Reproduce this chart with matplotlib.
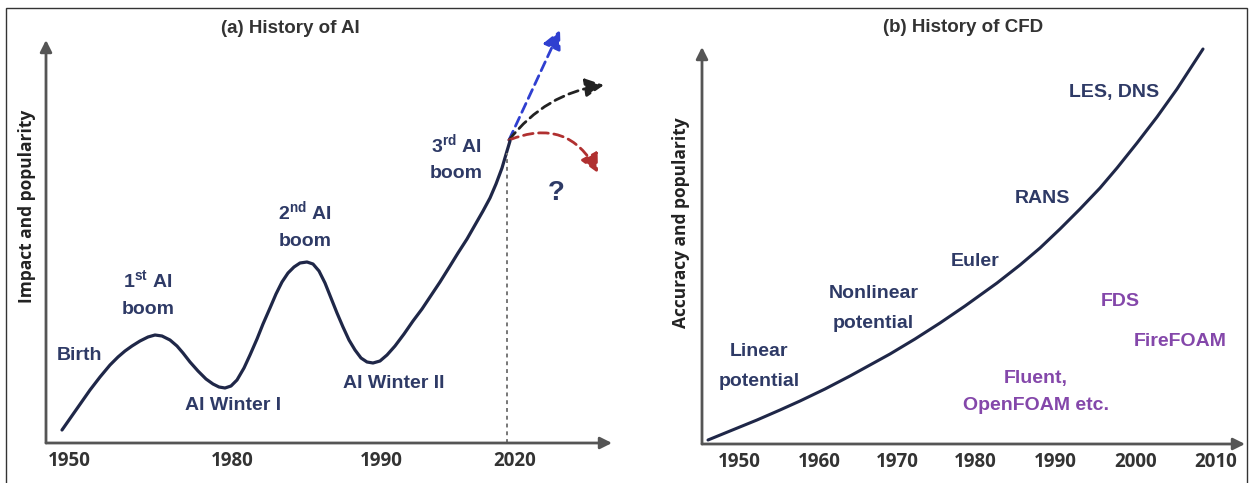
import matplotlib
matplotlib.use("Agg")
import matplotlib.pyplot as plt
from matplotlib.patches import FancyArrowPatch, Rectangle

# ── data (schematic; x = timeline position, y = level) ──
ai_x = [62, 76, 90, 100, 110, 118, 125, 132, 140, 148, 155, 162, 170, 177, 183, 190,
        198, 206, 213, 219, 225, 231, 237, 244, 250, 257, 263, 270, 276, 282, 288, 294,
        300, 307, 313, 319, 325, 331, 337, 343, 349, 355, 361, 367, 373, 380, 387, 395,
        404, 413, 422, 430, 440, 450, 458, 467, 475, 483, 490, 496, 502, 507, 510]
ai_y = [13, 33, 53, 66, 78, 86, 92, 97, 102, 106, 108, 107, 103, 97, 90, 81,
        72, 64, 59, 56, 55, 57, 63, 75, 88, 104, 119, 135, 149, 161, 170, 176,
        180, 181, 179, 172, 160, 145, 130, 116, 103, 93, 85, 81, 80, 82, 88, 97,
        109, 122, 134, 146, 161, 177, 190, 204, 218, 232, 245, 259, 275, 292, 302]
ai_ticks = [69, 232, 381, 515]
ai_ticklabels = ["1950", "1980", "1990", "2020"]
now_x = 507
now_level = 290

cfd_x = [708, 730, 757, 780, 800, 825, 850, 870, 890, 915, 940, 965, 997,
         1020, 1040, 1060, 1080, 1100, 1117, 1137, 1157, 1177, 1203]
cfd_y = [4, 13, 24, 34, 43, 55, 68, 79, 90, 105, 121, 138, 161,
         179, 196, 215, 235, 256, 276, 301, 327, 355, 395]
cfd_ticks = [739, 819, 897, 975, 1055, 1136, 1216]
cfd_ticklabels = ["1950", "1960", "1970", "1980", "1990", "2000", "2010"]

# future scenarios: start point, end points, curvature, colour
fut_start = (509, 303)
fut_ends = [(560, 413), (604, 358), (598, 270)]
fut_rads = [0.0, -0.2, -0.45]
fut_colors = ["#2f3fd0", "#222222", "#b03030"]

NAVY = "#2e3a66"
LINE = "#1f2748"
PURPLE = "#8447aa"
AXC = "#555555"
LAB = "Liberation Sans"
TCK = "Open Sans"

plt.rcParams["mathtext.fontset"] = "custom"
plt.rcParams["mathtext.rm"] = "Liberation Sans:bold"
plt.rcParams["mathtext.bf"] = "Liberation Sans:bold"

W, H = 1253, 483
fig = plt.figure(figsize=(W / 100, H / 100), dpi=100)


def box(l, r, b, t):
    return [l / W, (H - b) / H, (r - l) / W, (b - t) / H]


def setup(ax, ticks, labels):
    for s in ax.spines.values():
        s.set_visible(False)
    ax.set_yticks([])
    ax.set_xticks(ticks, labels)
    ax.tick_params(axis="x", length=0, pad=6)
    for t in ax.get_xticklabels():
        t.set_fontfamily(TCK)
        t.set_fontweight("bold")
        t.set_fontsize(13.5)
        t.set_color("#333333")
    kw = dict(arrowstyle="-|>,head_length=0.5,head_width=0.25", color=AXC, lw=2.0,
              shrinkA=0, shrinkB=0, mutation_scale=14)
    ax.annotate("", xy=(0, 1), xytext=(0, 0), xycoords="axes fraction",
                arrowprops=kw, annotation_clip=False)
    ax.annotate("", xy=(1, 0), xytext=(0, 0), xycoords="axes fraction",
                arrowprops=kw, annotation_clip=False)


def label(ax, x, y, s, color=NAVY, size=14):
    ax.text(x, y, s, ha="center", va="center", color=color, fontsize=size,
            fontfamily=LAB, fontweight="bold", clip_on=False)


# ── (a) History of AI ──
ax1 = fig.add_axes(box(46, 612, 443, 40))
ax1.set_xlim(46, 612)
ax1.set_ylim(0, 403)
setup(ax1, ai_ticks, ai_ticklabels)
ax1.plot(ai_x, ai_y, color=LINE, lw=2.3, solid_capstyle="round", solid_joinstyle="round")
ax1.plot([now_x, now_x], [0, now_level], color="#777777", lw=1.4, ls=(0, (2, 2)))
for end, rad, c in zip(fut_ends, fut_rads, fut_colors):
    ar = FancyArrowPatch(fut_start, end, connectionstyle=f"arc3,rad={rad}",
                         arrowstyle="-|>,head_length=0.7,head_width=0.35",
                         mutation_scale=16, color=c, lw=2.0, ls=(0, (3.5, 2)),
                         shrinkA=0, shrinkB=0, clip_on=False)
    ax1.add_patch(ar)

ax1.text(290, 415, "(a) History of AI", ha="center", va="center", fontsize=13.5,
         fontfamily=LAB, fontweight="bold", color="#333333", clip_on=False)
ax1.text(27, 237, "Impact and popularity", rotation=90, ha="center", va="center",
         fontsize=12.5, fontfamily=TCK, fontweight="bold", color="#222222", clip_on=False)
label(ax1, 79, 87, "Birth")
label(ax1, 148, 162, r"1$^{\mathrm{st}}$ AI")
label(ax1, 148, 134, "boom")
label(ax1, 233, 38, "AI Winter I")
label(ax1, 305, 231, r"2$^{\mathrm{nd}}$ AI")
label(ax1, 305, 202, "boom")
label(ax1, 394, 59, "AI Winter II")
label(ax1, 456, 298, r"3$^{\mathrm{rd}}$ AI")
label(ax1, 456, 270, "boom")
label(ax1, 556, 250, "?", size=20)

# ── (b) History of CFD ──
ax2 = fig.add_axes(box(702, 1245, 444, 47))
ax2.set_xlim(702, 1245)
ax2.set_ylim(0, 397)
setup(ax2, cfd_ticks, cfd_ticklabels)
ax2.plot(cfd_x, cfd_y, color=LINE, lw=2.2, solid_capstyle="round", solid_joinstyle="round")

ax2.text(963, 416, "(b) History of CFD", ha="center", va="center", fontsize=13.5,
         fontfamily=LAB, fontweight="bold", color="#333333", clip_on=False)
ax2.text(681, 221, "Accuracy and popularity", rotation=90, ha="center", va="center",
         fontsize=12.5, fontfamily=TCK, fontweight="bold", color="#222222", clip_on=False)
label(ax2, 759, 92, "Linear")
label(ax2, 759, 63, "potential")
label(ax2, 874, 150, "Nonlinear")
label(ax2, 873, 121, "potential")
label(ax2, 975, 182, "Euler")
label(ax2, 1042, 245, "RANS")
label(ax2, 1114, 351, "LES, DNS")
label(ax2, 1120, 142, "FDS", color=PURPLE)
label(ax2, 1180, 103, "FireFOAM", color=PURPLE)
label(ax2, 1036, 66, "Fluent,", color=PURPLE)
label(ax2, 1036, 38, "OpenFOAM etc.", color=PURPLE)

# outer frame
fig.patches.append(Rectangle((6 / W, -0.05), (1247 - 6) / W, 1.05 - 8 / H,
                             transform=fig.transFigure, fill=False,
                             edgecolor="#333333", lw=1.0))

fig.savefig("out.png", dpi=100)
